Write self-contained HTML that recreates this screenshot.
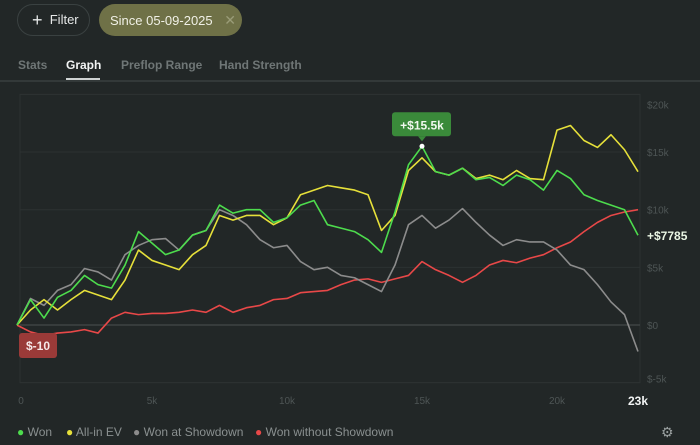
<!DOCTYPE html>
<html><head><meta charset="utf-8"><style>
body{margin:0;width:700px;height:445px;background:#222727;font-family:"Liberation Sans",sans-serif;overflow:hidden;position:relative}
.abs{position:absolute}
</style></head><body>
<div class="abs" style="left:17px;top:4px;width:73px;height:32px;border:1px solid #3a4141;border-radius:16px;color:#e6e8e8;font-size:13px;line-height:30px;box-sizing:border-box;padding-left:14px"><span style="font-size:18px;vertical-align:-2px">+</span>&nbsp; Filter</div>
<div class="abs" style="left:99px;top:4px;width:143px;height:32px;background:#6f7147;border-radius:16px;color:#f0f0e6;font-size:13px;line-height:32px;padding-left:11px;box-sizing:border-box">Since 05-09-2025 <span style="color:#9a9c78;margin-left:8px;font-size:14px">✕</span></div>
<div class="abs" style="left:18px;top:58px;color:#6f7676;font-size:12px;font-weight:bold">Stats</div>
<div class="abs" style="left:66px;top:58px;color:#f2f4f4;font-size:12px;font-weight:bold">Graph</div>
<div class="abs" style="left:66px;top:78px;width:34px;height:2px;background:#cfd3d3"></div>
<div class="abs" style="left:121px;top:58px;color:#6f7676;font-size:12px;font-weight:bold">Preflop Range</div>
<div class="abs" style="left:219px;top:58px;color:#6f7676;font-size:12px;font-weight:bold">Hand Strength</div>
<div class="abs" style="left:0;top:80px;width:700px;height:2px;background:#333939"></div>

<svg class="abs" style="left:0;top:0" width="700" height="445" id="chart"></svg>

<div class="abs" style="left:17px;top:425px;color:#8a9090;font-size:12px"><span style="color:#4ddc4d">●</span> Won</div>
<div class="abs" style="left:66px;top:425px;color:#8a9090;font-size:12px"><span style="color:#e6e03a">●</span> All-in EV</div>
<div class="abs" style="left:133px;top:425px;color:#8a9090;font-size:12px"><span style="color:#8c8c8c">●</span> Won at Showdown</div>
<div class="abs" style="left:255px;top:425px;color:#8a9090;font-size:12px"><span style="color:#e84848">●</span> Won without Showdown</div>
<div class="abs" style="left:661px;top:424px;color:#9aa0a0;font-size:14px">⚙</div>

<script>
const hands=[0,0.5,1,1.5,2,2.5,3,3.5,4,4.5,5,5.5,6,6.5,7,7.5,8,8.5,9,9.5,10,10.5,11,11.5,12,12.5,13,13.5,14,14.5,15,15.5,16,16.5,17,17.5,18,18.5,19,19.5,20,20.5,21,21.5,22,22.5,23];
const won=[0,2.2,0.6,2.4,3.0,4.3,3.5,3.2,5.2,8.1,7.1,6.1,6.5,7.8,8.2,10.4,9.7,10.0,10.0,8.9,9.3,10.4,10.8,8.7,8.4,8.1,7.4,6.3,9.8,13.9,15.5,13.3,13.0,13.6,12.6,12.8,12.1,13.0,12.6,11.7,13.4,12.7,11.3,10.8,10.4,10.0,7.785];
const allinEv=[0,1.3,2.2,1.3,2.2,3.0,2.6,2.2,3.9,6.5,5.6,5.2,4.8,6.1,6.9,9.5,9.1,9.5,9.5,8.7,9.3,11.3,11.7,12.1,11.9,11.7,11.3,8.2,9.5,13.4,14.5,13.3,13.0,13.6,12.7,13.0,12.6,13.4,12.7,12.6,16.9,17.3,16.0,15.4,16.5,15.2,13.3];
const wonShowdown=[0,2.3,1.7,3.0,3.5,4.9,4.6,3.9,6.1,6.9,7.4,7.5,6.5,7.8,8.2,10.0,9.5,8.7,7.4,6.7,6.9,5.5,4.8,5.0,4.3,4.1,3.5,2.9,5.2,8.7,9.5,8.4,9.1,10.1,8.9,7.8,6.9,7.4,7.2,7.2,6.5,5.2,4.8,3.5,2.0,0.9,-2.3];
const wonNoShowdown=[-0.01,-0.6,-0.9,-0.7,-0.6,-0.4,-0.7,0.6,1.1,0.9,1.0,1.0,1.1,1.3,1.1,1.7,1.1,1.5,1.7,2.2,2.3,2.8,2.9,3.0,3.5,3.9,4.0,3.7,4.0,4.3,5.5,4.8,4.3,3.7,4.3,5.2,5.6,5.4,5.8,6.1,6.7,7.2,8.1,8.9,9.5,9.8,10.0];
const yTicks=[20,15,10,5,0,-5];
const yTickLabels=["$20k","$15k","$10k","$5k","$0","$-5k"];
const xTicks=[0,5,10,15,20];
const xTickLabels=["0","5k","10k","15k","20k"];

const NS="http://www.w3.org/2000/svg";
const svg=document.getElementById('chart');
const X=h=>17+h*27;
const Y=v=>325-v*11.53;
function mk(tag,attrs,parent){const e=document.createElementNS(NS,tag);for(const k in attrs)e.setAttribute(k,attrs[k]);(parent||svg).appendChild(e);return e;}

const frame=mk('rect',{x:20,y:Y(20),width:620,height:Y(-5)-Y(20),fill:'none',stroke:'#2c3232','stroke-width':1});


yTicks.forEach((t,i)=>{
  const g=mk('line',{x1:20,x2:640,y1:Y(t),y2:Y(t),stroke:t===0?'#3e4444':'#2c3232','stroke-width':t===0?1.5:1});
  
  
  let ly=Y(t)+4; if(t===20) ly=Y(t)+14; if(t===-5) ly=Y(t)-0;
  const tx=mk('text',{x:647,y:ly,fill:'#4e5555','font-size':10,'font-family':'Liberation Sans'});
  tx.textContent=yTickLabels[i];
  
  
});
xTicks.forEach((t,i)=>{
  const tx=mk('text',{x:X(t)+(t===0?4:0),y:404,fill:'#4e5555','font-size':10,'text-anchor':'middle','font-family':'Liberation Sans'});
  tx.textContent=xTickLabels[i];
  
  
});
const last=mk('text',{x:X(23),y:405,fill:'#f2f4f4','font-size':12,'font-weight':'bold','text-anchor':'middle','font-family':'Liberation Sans'});
last.textContent='23k';



function line(vals,color,name){
  const p=mk('polyline',{points:vals.map((v,i)=>X(hands[i])+','+Y(v)).join(' '),fill:'none',stroke:color,'stroke-width':1.6,'stroke-linejoin':'round'});
  
  
}
line(wonNoShowdown,'#e84848','line-won-without-showdown');
line(wonShowdown,'#8c8c8c','line-won-at-showdown');
line(allinEv,'#e6e03a','line-allin-ev');
line(won,'#4ddc4d','line-won');

let pi=0; won.forEach((v,i)=>{if(v>won[pi])pi=i;});
const px=X(hands[pi]),py=Y(won[pi]);
const dot=mk('circle',{cx:px,cy:py,r:2.5,fill:'#fff'});


const bx=mk('rect',{x:px-30,y:py-34,width:59,height:24,rx:3,fill:'#3a8a3a'});


mk('path',{d:`M${px-4},${py-10} L${px+4},${py-10} L${px},${py-5} Z`,fill:'#3a8a3a'});
const pt=mk('text',{x:px,y:py-17,fill:'#f0f8ee','font-size':12,'font-weight':'bold','text-anchor':'middle','font-family':'Liberation Sans'});
pt.textContent='+$'+won[pi]+'k';



const sb=mk('rect',{x:19,y:Y(0)+8,width:38,height:25,rx:3,fill:'#9a3a38'});


const st=mk('text',{x:38,y:Y(0)+25,fill:'#f6e8e8','font-size':12,'font-weight':'bold','text-anchor':'middle','font-family':'Liberation Sans'});
st.textContent='$-10';



const el=mk('text',{x:647,y:Y(won[won.length-1])+5,fill:'#eaf6e4','font-size':12,'font-weight':'bold','font-family':'Liberation Sans'});
el.textContent='+$'+Math.round(won[won.length-1]*1000);


</script>
</body></html>
